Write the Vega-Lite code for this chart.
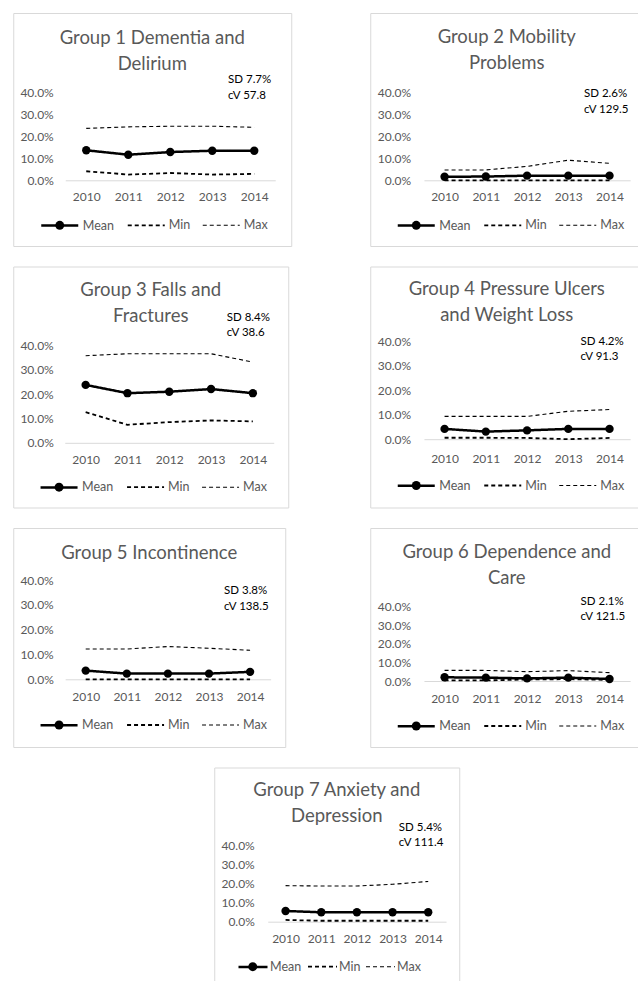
{
  "$schema": "https://vega.github.io/schema/vega-lite/v6.json",
  "background": "white",
  "padding": {"left": 12, "top": 12, "right": 0, "bottom": 0},
  "datasets": {
    "rates": [
      {"g":1,"s":"Mean","year":2010,"v":0.136},{"g":1,"s":"Mean","year":2011,"v":0.116},{"g":1,"s":"Mean","year":2012,"v":0.128},{"g":1,"s":"Mean","year":2013,"v":0.134},{"g":1,"s":"Mean","year":2014,"v":0.134},
      {"g":1,"s":"Min","year":2010,"v":0.041},{"g":1,"s":"Min","year":2011,"v":0.026},{"g":1,"s":"Min","year":2012,"v":0.033},{"g":1,"s":"Min","year":2013,"v":0.026},{"g":1,"s":"Min","year":2014,"v":0.029},
      {"g":1,"s":"Max","year":2010,"v":0.235},{"g":1,"s":"Max","year":2011,"v":0.242},{"g":1,"s":"Max","year":2012,"v":0.245},{"g":1,"s":"Max","year":2013,"v":0.245},{"g":1,"s":"Max","year":2014,"v":0.240},
      {"g":2,"s":"Mean","year":2010,"v":0.016},{"g":2,"s":"Mean","year":2011,"v":0.017},{"g":2,"s":"Mean","year":2012,"v":0.021},{"g":2,"s":"Mean","year":2013,"v":0.021},{"g":2,"s":"Mean","year":2014,"v":0.021},
      {"g":2,"s":"Min","year":2010,"v":0.0},{"g":2,"s":"Min","year":2011,"v":0.0},{"g":2,"s":"Min","year":2012,"v":0.0},{"g":2,"s":"Min","year":2013,"v":0.0},{"g":2,"s":"Min","year":2014,"v":0.0},
      {"g":2,"s":"Max","year":2010,"v":0.047},{"g":2,"s":"Max","year":2011,"v":0.047},{"g":2,"s":"Max","year":2012,"v":0.063},{"g":2,"s":"Max","year":2013,"v":0.091},{"g":2,"s":"Max","year":2014,"v":0.077},
      {"g":3,"s":"Mean","year":2010,"v":0.238},{"g":3,"s":"Mean","year":2011,"v":0.204},{"g":3,"s":"Mean","year":2012,"v":0.210},{"g":3,"s":"Mean","year":2013,"v":0.221},{"g":3,"s":"Mean","year":2014,"v":0.204},
      {"g":3,"s":"Min","year":2010,"v":0.126},{"g":3,"s":"Min","year":2011,"v":0.074},{"g":3,"s":"Min","year":2012,"v":0.085},{"g":3,"s":"Min","year":2013,"v":0.092},{"g":3,"s":"Min","year":2014,"v":0.088},
      {"g":3,"s":"Max","year":2010,"v":0.358},{"g":3,"s":"Max","year":2011,"v":0.366},{"g":3,"s":"Max","year":2012,"v":0.366},{"g":3,"s":"Max","year":2013,"v":0.366},{"g":3,"s":"Max","year":2014,"v":0.332},
      {"g":4,"s":"Mean","year":2010,"v":0.042},{"g":4,"s":"Mean","year":2011,"v":0.031},{"g":4,"s":"Mean","year":2012,"v":0.036},{"g":4,"s":"Mean","year":2013,"v":0.042},{"g":4,"s":"Mean","year":2014,"v":0.042},
      {"g":4,"s":"Min","year":2010,"v":0.006},{"g":4,"s":"Min","year":2011,"v":0.006},{"g":4,"s":"Min","year":2012,"v":0.005},{"g":4,"s":"Min","year":2013,"v":0.0},{"g":4,"s":"Min","year":2014,"v":0.005},
      {"g":4,"s":"Max","year":2010,"v":0.093},{"g":4,"s":"Max","year":2011,"v":0.093},{"g":4,"s":"Max","year":2012,"v":0.093},{"g":4,"s":"Max","year":2013,"v":0.114},{"g":4,"s":"Max","year":2014,"v":0.121},
      {"g":5,"s":"Mean","year":2010,"v":0.035},{"g":5,"s":"Mean","year":2011,"v":0.023},{"g":5,"s":"Mean","year":2012,"v":0.023},{"g":5,"s":"Mean","year":2013,"v":0.023},{"g":5,"s":"Mean","year":2014,"v":0.030},
      {"g":5,"s":"Min","year":2010,"v":0.0},{"g":5,"s":"Min","year":2011,"v":0.0},{"g":5,"s":"Min","year":2012,"v":0.0},{"g":5,"s":"Min","year":2013,"v":0.0},{"g":5,"s":"Min","year":2014,"v":0.0},
      {"g":5,"s":"Max","year":2010,"v":0.122},{"g":5,"s":"Max","year":2011,"v":0.122},{"g":5,"s":"Max","year":2012,"v":0.132},{"g":5,"s":"Max","year":2013,"v":0.125},{"g":5,"s":"Max","year":2014,"v":0.117},
      {"g":6,"s":"Mean","year":2010,"v":0.020},{"g":6,"s":"Mean","year":2011,"v":0.018},{"g":6,"s":"Mean","year":2012,"v":0.014},{"g":6,"s":"Mean","year":2013,"v":0.018},{"g":6,"s":"Mean","year":2014,"v":0.011},
      {"g":6,"s":"Min","year":2010,"v":0.003},{"g":6,"s":"Min","year":2011,"v":0.003},{"g":6,"s":"Min","year":2012,"v":0.008},{"g":6,"s":"Min","year":2013,"v":0.010},{"g":6,"s":"Min","year":2014,"v":0.006},
      {"g":6,"s":"Max","year":2010,"v":0.057},{"g":6,"s":"Max","year":2011,"v":0.057},{"g":6,"s":"Max","year":2012,"v":0.050},{"g":6,"s":"Max","year":2013,"v":0.056},{"g":6,"s":"Max","year":2014,"v":0.045},
      {"g":7,"s":"Mean","year":2010,"v":0.056},{"g":7,"s":"Mean","year":2011,"v":0.049},{"g":7,"s":"Mean","year":2012,"v":0.049},{"g":7,"s":"Mean","year":2013,"v":0.049},{"g":7,"s":"Mean","year":2014,"v":0.049},
      {"g":7,"s":"Min","year":2010,"v":0.009},{"g":7,"s":"Min","year":2011,"v":0.005},{"g":7,"s":"Min","year":2012,"v":0.005},{"g":7,"s":"Min","year":2013,"v":0.005},{"g":7,"s":"Min","year":2014,"v":0.005},
      {"g":7,"s":"Max","year":2010,"v":0.188},{"g":7,"s":"Max","year":2011,"v":0.186},{"g":7,"s":"Max","year":2012,"v":0.186},{"g":7,"s":"Max","year":2013,"v":0.195},{"g":7,"s":"Max","year":2014,"v":0.210}
    ],
    "notes": [
      {"g":1,"note":"SD 7.7%\ncV 57.8"},
      {"g":2,"note":"SD 2.6%\ncV 129.5"},
      {"g":3,"note":"SD 8.4%\ncV 38.6"},
      {"g":4,"note":"SD 4.2%\ncV 91.3"},
      {"g":5,"note":"SD 3.8%\ncV 138.5"},
      {"g":6,"note":"SD 2.1%\ncV 121.5"},
      {"g":7,"note":"SD 5.4%\ncV 111.4"}
    ]
  },
  "config": {
    "view": {"stroke": "#d9d9d9", "strokeWidth": 1, "fill": "white"},
    "font": "Lato",
    "axis": {"grid": false, "ticks": false, "tickSize": 0, "labelColor": "#595959", "labelFont": "Lato", "labelFontSize": 12, "domainColor": "#d9d9d9", "domainWidth": 1, "labelOverlap": false, "labelFlush": false},
    "axisY": {"domain": false, "labelPadding": 0},
    "title": {"font": "Lato", "fontSize": 18.5, "fontWeight": "normal", "color": "#595959", "anchor": "middle", "frame": "group", "lineHeight": 26, "baseline": "top"},
    "legend": {"direction": "horizontal", "labelFont": "Lato", "labelFontSize": 12.5, "labelColor": "#595959", "labelOffset": 3, "columnPadding": 9, "symbolSize": 1369, "padding": 0, "symbolType": "stroke"}
  },
  "spacing": 18.5,
  "center": true,
  "resolve": {"scale": {"strokeDash": "independent", "strokeWidth": "independent", "fill": "independent"}, "legend": {"strokeDash": "independent", "strokeWidth": "independent", "fill": "independent"}},
  "vconcat": [
    {
      "spacing": 77,
      "resolve": {"scale": {"strokeDash": "independent", "strokeWidth": "independent", "fill": "independent"}, "legend": {"strokeDash": "independent", "strokeWidth": "independent", "fill": "independent"}},
      "hconcat": [
        {
          "width": 278, "height": 233,
          "title": {"text": ["Group 1 Dementia and", "Delirium"], "offset": -60},
          "data": {"name": "rates"},
          "transform": [{"filter": "datum.g === 1"}],
          "layer": [
            {"mark": {"type": "line", "color": "#000"},
             "encoding": {
               "x": {"field": "year", "type": "quantitative", "scale": {"domain": [2009.5, 2014.5], "range": [52, 262], "nice": false, "zero": false}, "axis": {"values": [2010, 2011, 2012, 2013, 2014], "format": "d", "offset": -65.7, "labelPadding": 10.8, "title": null}},
               "y": {"field": "v", "type": "quantitative", "scale": {"domain": [0, 0.4], "range": [167.3, 79], "nice": false, "zero": false}, "axis": {"values": [0, 0.1, 0.2, 0.3, 0.4], "format": ".1%", "offset": -40, "title": null}},
               "strokeDash": {"field": "s", "type": "nominal", "scale": {"domain": ["Mean", "Min", "Max"], "range": [[1, 0], [4, 3], [4, 3]]},
                 "legend": {"title": null, "orient": "none", "legendX": 26.5, "legendY": 192.3,
                   "encode": {"symbols": {"stroke": {"value": "#000"}, "strokeWidth": {"condition": {"test": "datum.value === 'Mean'", "value": 2.5}, "value": 1.1}}}}},
               "strokeWidth": {"field": "s", "type": "nominal", "scale": {"domain": ["Mean", "Min", "Max"], "range": [2.5, 1.1, 1.1]}, "legend": null}
             }},
            {"transform": [{"filter": "datum.s === 'Mean'"}], "mark": {"type": "point", "filled": true, "size": 70, "opacity": 1, "strokeWidth": 0},
             "encoding": {"x": {"field": "year", "type": "quantitative"}, "y": {"field": "v", "type": "quantitative"},
               "fill": {"field": "s", "type": "nominal", "scale": {"domain": ["Mean"], "range": ["#000"]},
                 "legend": {"title": null, "orient": "none", "legendX": 42, "legendY": 207.8, "symbolType": "circle", "symbolSize": 80, "symbolStrokeWidth": 0, "labelExpr": "''", "labelFontSize": 1}}}},
            {"data": {"name": "notes"}, "transform": [{"filter": "datum.g === 1"}],
             "mark": {"type": "text", "align": "left", "baseline": "top", "lineBreak": "\n", "lineHeight": 16, "fontSize": 11.5, "font": "Lato", "color": "#000"},
             "encoding": {"x": {"datum": 2013.376}, "y": {"datum": 0.4802}, "text": {"field": "note", "type": "nominal"}}}
          ]
        },
        {
          "width": 290, "height": 233,
          "title": {"text": ["Group 2 Mobility", "Problems"], "offset": -59.5, "dx": -8.5},
          "data": {"name": "rates"},
          "transform": [{"filter": "datum.g === 2"}],
          "layer": [
            {"mark": {"type": "line", "color": "#000"},
             "encoding": {
               "x": {"field": "year", "type": "quantitative", "scale": {"domain": [2009.5, 2014.5], "range": [53.7, 259.9], "nice": false, "zero": false}, "axis": {"values": [2010, 2011, 2012, 2013, 2014], "format": "d", "offset": -65.7, "labelPadding": 10.8, "title": null}},
               "y": {"field": "v", "type": "quantitative", "scale": {"domain": [0, 0.4], "range": [167.3, 79], "nice": false, "zero": false}, "axis": {"values": [0, 0.1, 0.2, 0.3, 0.4], "format": ".1%", "offset": -40.3, "title": null}},
               "strokeDash": {"field": "s", "type": "nominal", "scale": {"domain": ["Mean", "Min", "Max"], "range": [[1, 0], [4, 3], [4, 3]]},
                 "legend": {"title": null, "orient": "none", "legendX": 26, "legendY": 192.3,
                   "encode": {"symbols": {"stroke": {"value": "#000"}, "strokeWidth": {"condition": {"test": "datum.value === 'Mean'", "value": 2.5}, "value": 1.1}}}}},
               "strokeWidth": {"field": "s", "type": "nominal", "scale": {"domain": ["Mean", "Min", "Max"], "range": [2.5, 1.1, 1.1]}, "legend": null}
             }},
            {"transform": [{"filter": "datum.s === 'Mean'"}], "mark": {"type": "point", "filled": true, "size": 70, "opacity": 1, "strokeWidth": 0},
             "encoding": {"x": {"field": "year", "type": "quantitative"}, "y": {"field": "v", "type": "quantitative"},
               "fill": {"field": "s", "type": "nominal", "scale": {"domain": ["Mean"], "range": ["#000"]},
                 "legend": {"title": null, "orient": "none", "legendX": 41.5, "legendY": 207.8, "symbolType": "circle", "symbolSize": 80, "symbolStrokeWidth": 0, "labelExpr": "''", "labelFontSize": 1}}}},
            {"data": {"name": "notes"}, "transform": [{"filter": "datum.g === 2"}],
             "mark": {"type": "text", "align": "left", "baseline": "top", "lineBreak": "\n", "lineHeight": 16, "fontSize": 11.5, "font": "Lato", "color": "#000"},
             "encoding": {"x": {"datum": 2013.38}, "y": {"datum": 0.4195}, "text": {"field": "note", "type": "nominal"}}}
          ]
        }
      ]
    },
    {
      "spacing": 80,
      "resolve": {"scale": {"strokeDash": "independent", "strokeWidth": "independent", "fill": "independent"}, "legend": {"strokeDash": "independent", "strokeWidth": "independent", "fill": "independent"}},
      "hconcat": [
        {
          "width": 275, "height": 241,
          "title": {"text": ["Group 3 Falls and", "Fractures"], "offset": -59},
          "data": {"name": "rates"},
          "transform": [{"filter": "datum.g === 3"}],
          "layer": [
            {"mark": {"type": "line", "color": "#000"},
             "encoding": {
               "x": {"field": "year", "type": "quantitative", "scale": {"domain": [2009.5, 2014.5], "range": [51.5, 260.5], "nice": false, "zero": false}, "axis": {"values": [2010, 2011, 2012, 2013, 2014], "format": "d", "offset": -64.7, "labelPadding": 11.5, "title": null}},
               "y": {"field": "v", "type": "quantitative", "scale": {"domain": [0, 0.4], "range": [176.3, 79], "nice": false, "zero": false}, "axis": {"values": [0, 0.1, 0.2, 0.3, 0.4], "format": ".1%", "offset": -40, "title": null}},
               "strokeDash": {"field": "s", "type": "nominal", "scale": {"domain": ["Mean", "Min", "Max"], "range": [[1, 0], [4, 3], [4, 3]]},
                 "legend": {"title": null, "orient": "none", "legendX": 25.8, "legendY": 200.7,
                   "encode": {"symbols": {"stroke": {"value": "#000"}, "strokeWidth": {"condition": {"test": "datum.value === 'Mean'", "value": 2.5}, "value": 1.1}}}}},
               "strokeWidth": {"field": "s", "type": "nominal", "scale": {"domain": ["Mean", "Min", "Max"], "range": [2.5, 1.1, 1.1]}, "legend": null}
             }},
            {"transform": [{"filter": "datum.s === 'Mean'"}], "mark": {"type": "point", "filled": true, "size": 70, "opacity": 1, "strokeWidth": 0},
             "encoding": {"x": {"field": "year", "type": "quantitative"}, "y": {"field": "v", "type": "quantitative"},
               "fill": {"field": "s", "type": "nominal", "scale": {"domain": ["Mean"], "range": ["#000"]},
                 "legend": {"title": null, "orient": "none", "legendX": 41.3, "legendY": 216.2, "symbolType": "circle", "symbolSize": 80, "symbolStrokeWidth": 0, "labelExpr": "''", "labelFontSize": 1}}}},
            {"data": {"name": "notes"}, "transform": [{"filter": "datum.g === 3"}],
             "mark": {"type": "text", "align": "left", "baseline": "top", "lineBreak": "\n", "lineHeight": 15, "fontSize": 11.5, "font": "Lato", "color": "#000"},
             "encoding": {"x": {"datum": 2013.376}, "y": {"datum": 0.5369}, "text": {"field": "note", "type": "nominal"}}}
          ]
        },
        {
          "width": 290, "height": 241,
          "title": {"text": ["Group 4 Pressure Ulcers", "and Weight Loss"], "offset": -57.7, "dx": -8.5},
          "data": {"name": "rates"},
          "transform": [{"filter": "datum.g === 4"}],
          "layer": [
            {"mark": {"type": "line", "color": "#000"},
             "encoding": {
               "x": {"field": "year", "type": "quantitative", "scale": {"domain": [2009.5, 2014.5], "range": [53.7, 259.9], "nice": false, "zero": false}, "axis": {"values": [2010, 2011, 2012, 2013, 2014], "format": "d", "offset": -68.3, "labelPadding": 14.5, "title": null}},
               "y": {"field": "v", "type": "quantitative", "scale": {"domain": [0, 0.4], "range": [172.7, 74.7], "nice": false, "zero": false}, "axis": {"values": [0, 0.1, 0.2, 0.3, 0.4], "format": ".1%", "offset": -40.3, "title": null}},
               "strokeDash": {"field": "s", "type": "nominal", "scale": {"domain": ["Mean", "Min", "Max"], "range": [[1, 0], [4, 3], [4, 3]]},
                 "legend": {"title": null, "orient": "none", "legendX": 26, "legendY": 199,
                   "encode": {"symbols": {"stroke": {"value": "#000"}, "strokeWidth": {"condition": {"test": "datum.value === 'Mean'", "value": 2.5}, "value": 1.1}}}}},
               "strokeWidth": {"field": "s", "type": "nominal", "scale": {"domain": ["Mean", "Min", "Max"], "range": [2.5, 1.1, 1.1]}, "legend": null}
             }},
            {"transform": [{"filter": "datum.s === 'Mean'"}], "mark": {"type": "point", "filled": true, "size": 70, "opacity": 1, "strokeWidth": 0},
             "encoding": {"x": {"field": "year", "type": "quantitative"}, "y": {"field": "v", "type": "quantitative"},
               "fill": {"field": "s", "type": "nominal", "scale": {"domain": ["Mean"], "range": ["#000"]},
                 "legend": {"title": null, "orient": "none", "legendX": 41.5, "legendY": 214.5, "symbolType": "circle", "symbolSize": 80, "symbolStrokeWidth": 0, "labelExpr": "''", "labelFontSize": 1}}}},
            {"data": {"name": "notes"}, "transform": [{"filter": "datum.g === 4"}],
             "mark": {"type": "text", "align": "left", "baseline": "top", "lineBreak": "\n", "lineHeight": 15, "fontSize": 11.5, "font": "Lato", "color": "#000"},
             "encoding": {"x": {"datum": 2013.297}, "y": {"datum": 0.4192}, "text": {"field": "note", "type": "nominal"}}}
          ]
        }
      ]
    },
    {
      "spacing": 83,
      "resolve": {"scale": {"strokeDash": "independent", "strokeWidth": "independent", "fill": "independent"}, "legend": {"strokeDash": "independent", "strokeWidth": "independent", "fill": "independent"}},
      "hconcat": [
        {
          "width": 272, "height": 219,
          "title": {"text": "Group 5 Incontinence", "offset": -34},
          "data": {"name": "rates"},
          "transform": [{"filter": "datum.g === 5"}],
          "layer": [
            {"mark": {"type": "line", "color": "#000"},
             "encoding": {
               "x": {"field": "year", "type": "quantitative", "scale": {"domain": [2009.5, 2014.5], "range": [51.9, 257.4], "nice": false, "zero": false}, "axis": {"values": [2010, 2011, 2012, 2013, 2014], "format": "d", "offset": -67.7, "labelPadding": 12, "title": null}},
               "y": {"field": "v", "type": "quantitative", "scale": {"domain": [0, 0.4], "range": [151.3, 52], "nice": false, "zero": false}, "axis": {"values": [0, 0.1, 0.2, 0.3, 0.4], "format": ".1%", "offset": -40, "title": null}},
               "strokeDash": {"field": "s", "type": "nominal", "scale": {"domain": ["Mean", "Min", "Max"], "range": [[1, 0], [4, 3], [4, 3]]},
                 "legend": {"title": null, "orient": "none", "legendX": 25.8, "legendY": 177,
                   "encode": {"symbols": {"stroke": {"value": "#000"}, "strokeWidth": {"condition": {"test": "datum.value === 'Mean'", "value": 2.5}, "value": 1.1}}}}},
               "strokeWidth": {"field": "s", "type": "nominal", "scale": {"domain": ["Mean", "Min", "Max"], "range": [2.5, 1.1, 1.1]}, "legend": null}
             }},
            {"transform": [{"filter": "datum.s === 'Mean'"}], "mark": {"type": "point", "filled": true, "size": 70, "opacity": 1, "strokeWidth": 0},
             "encoding": {"x": {"field": "year", "type": "quantitative"}, "y": {"field": "v", "type": "quantitative"},
               "fill": {"field": "s", "type": "nominal", "scale": {"domain": ["Mean"], "range": ["#000"]},
                 "legend": {"title": null, "orient": "none", "legendX": 41.3, "legendY": 192.5, "symbolType": "circle", "symbolSize": 80, "symbolStrokeWidth": 0, "labelExpr": "''", "labelFontSize": 1}}}},
            {"data": {"name": "notes"}, "transform": [{"filter": "datum.g === 5"}],
             "mark": {"type": "text", "align": "left", "baseline": "top", "lineBreak": "\n", "lineHeight": 16.5, "fontSize": 11.5, "font": "Lato", "color": "#000"},
             "encoding": {"x": {"datum": 2013.366}, "y": {"datum": 0.3799}, "text": {"field": "note", "type": "nominal"}}}
          ]
        },
        {
          "width": 290, "height": 219,
          "title": {"text": ["Group 6 Dependence and", "Care"], "offset": -59, "dx": -8.5},
          "data": {"name": "rates"},
          "transform": [{"filter": "datum.g === 6"}],
          "layer": [
            {"mark": {"type": "line", "color": "#000"},
             "encoding": {
               "x": {"field": "year", "type": "quantitative", "scale": {"domain": [2009.5, 2014.5], "range": [53.7, 259.9], "nice": false, "zero": false}, "axis": {"values": [2010, 2011, 2012, 2013, 2014], "format": "d", "offset": -66, "labelPadding": 12, "title": null}},
               "y": {"field": "v", "type": "quantitative", "scale": {"domain": [0, 0.4], "range": [153, 78.7], "nice": false, "zero": false}, "axis": {"values": [0, 0.1, 0.2, 0.3, 0.4], "format": ".1%", "offset": -40.3, "title": null}},
               "strokeDash": {"field": "s", "type": "nominal", "scale": {"domain": ["Mean", "Min", "Max"], "range": [[1, 0], [4, 3], [4, 3]]},
                 "legend": {"title": null, "orient": "none", "legendX": 26, "legendY": 178,
                   "encode": {"symbols": {"stroke": {"value": "#000"}, "strokeWidth": {"condition": {"test": "datum.value === 'Mean'", "value": 2.5}, "value": 1.1}}}}},
               "strokeWidth": {"field": "s", "type": "nominal", "scale": {"domain": ["Mean", "Min", "Max"], "range": [2.5, 1.1, 1.1]}, "legend": null}
             }},
            {"transform": [{"filter": "datum.s === 'Mean'"}], "mark": {"type": "point", "filled": true, "size": 70, "opacity": 1, "strokeWidth": 0},
             "encoding": {"x": {"field": "year", "type": "quantitative"}, "y": {"field": "v", "type": "quantitative"},
               "fill": {"field": "s", "type": "nominal", "scale": {"domain": ["Mean"], "range": ["#000"]},
                 "legend": {"title": null, "orient": "none", "legendX": 41.5, "legendY": 193.5, "symbolType": "circle", "symbolSize": 80, "symbolStrokeWidth": 0, "labelExpr": "''", "labelFontSize": 1}}}},
            {"data": {"name": "notes"}, "transform": [{"filter": "datum.g === 6"}],
             "mark": {"type": "text", "align": "left", "baseline": "top", "lineBreak": "\n", "lineHeight": 15, "fontSize": 11.5, "font": "Lato", "color": "#000"},
             "encoding": {"x": {"datum": 2013.297}, "y": {"datum": 0.4576}, "text": {"field": "note", "type": "nominal"}}}
          ]
        }
      ]
    },
    {
      "width": 245, "height": 225,
      "title": {"text": ["Group 7 Anxiety and", "Depression"], "offset": -57.5},
      "data": {"name": "rates"},
      "transform": [{"filter": "datum.g === 7"}],
      "layer": [
        {"mark": {"type": "line", "color": "#000"},
         "encoding": {
           "x": {"field": "year", "type": "quantitative", "scale": {"domain": [2009.5, 2014.5], "range": [53.5, 231.8], "nice": false, "zero": false}, "axis": {"values": [2010, 2011, 2012, 2013, 2014], "format": "d", "offset": -70.8, "labelPadding": 12, "title": null}},
           "y": {"field": "v", "type": "quantitative", "scale": {"domain": [0, 0.4], "range": [154.2, 77.5], "nice": false, "zero": false}, "axis": {"values": [0, 0.1, 0.2, 0.3, 0.4], "format": ".1%", "offset": -40, "title": null}},
           "strokeDash": {"field": "s", "type": "nominal", "scale": {"domain": ["Mean", "Min", "Max"], "range": [[1, 0], [4, 3], [4, 3]]},
             "legend": {"title": null, "orient": "none", "legendX": 22.75, "legendY": 183.2, "symbolSize": 841, "labelOffset": 1, "columnPadding": 2,
               "encode": {"symbols": {"stroke": {"value": "#000"}, "strokeWidth": {"condition": {"test": "datum.value === 'Mean'", "value": 2.5}, "value": 1.1}}}}},
           "strokeWidth": {"field": "s", "type": "nominal", "scale": {"domain": ["Mean", "Min", "Max"], "range": [2.5, 1.1, 1.1]}, "legend": null}
         }},
        {"transform": [{"filter": "datum.s === 'Mean'"}], "mark": {"type": "point", "filled": true, "size": 70, "opacity": 1, "strokeWidth": 0},
         "encoding": {"x": {"field": "year", "type": "quantitative"}, "y": {"field": "v", "type": "quantitative"},
           "fill": {"field": "s", "type": "nominal", "scale": {"domain": ["Mean"], "range": ["#000"]},
             "legend": {"title": null, "orient": "none", "legendX": 34, "legendY": 194.7, "symbolType": "circle", "symbolSize": 80, "symbolStrokeWidth": 0, "labelExpr": "''", "labelFontSize": 1}}}},
        {"data": {"name": "notes"}, "transform": [{"filter": "datum.g === 7"}],
         "mark": {"type": "text", "align": "left", "baseline": "top", "lineBreak": "\n", "lineHeight": 15.5, "fontSize": 11.5, "font": "Lato", "color": "#000"},
         "encoding": {"x": {"datum": 2013.176}, "y": {"datum": 0.5215}, "text": {"field": "note", "type": "nominal"}}}
      ]
    }
  ]
}
